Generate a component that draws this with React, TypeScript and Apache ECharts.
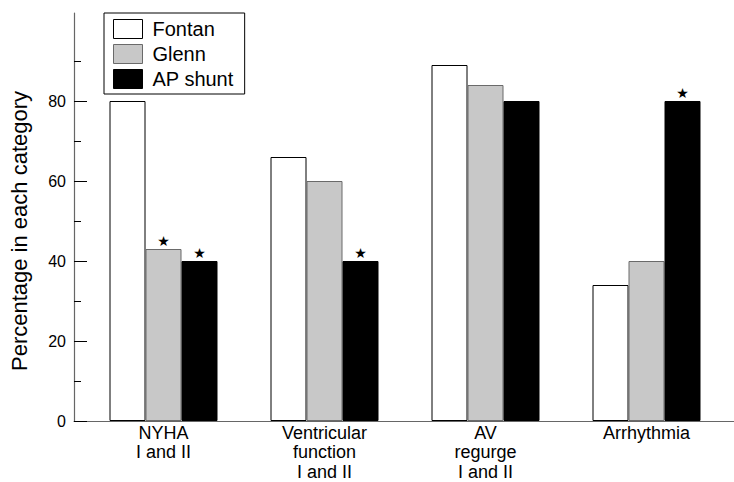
import React, { useEffect, useRef } from "react";
import * as echarts from "echarts";

const categories = ["NYHA\nI and II", "Ventricular\nfunction\nI and II", "AV\nregurge\nI and II", "Arrhythmia"];
const seriesNames = ["Fontan", "Glenn", "AP shunt"];
const fontanValues = [80, 66, 89, 34];
const glennValues = [43, 60, 84, 40];
const apShuntValues = [40, 40, 80, 80];
const fontanStars = [false, false, false, false];
const glennStars = [true, false, false, false];
const apShuntStars = [true, true, false, true];
const yTickLabels = [0, 20, 40, 60, 80];

const FONT = "'Liberation Sans', Arial, Helvetica, sans-serif";

const fills = ["#ffffff", "#c8c8c8", "#000000"];
const borders = ["#000000", "#6a6a6a", "#000000"];

export default function App() {
  const ref = useRef<HTMLDivElement>(null);
  useEffect(() => {
    if (!ref.current) return;
    const chart = echarts.init(ref.current, undefined, { renderer: "svg" });
    const valuesList = [fontanValues, glennValues, apShuntValues];
    const starsList = [fontanStars, glennStars, apShuntStars];
    const series = seriesNames.map((name, si) => ({
      name,
      type: "bar",
      xAxisIndex: 3,
      yAxisIndex: 3,
      barWidth: 36,
      barGap: "0%",
      itemStyle: { color: fills[si], borderColor: borders[si], borderWidth: 1 },
      data: valuesList[si].map((v, i) =>
        starsList[si][i]
          ? {
              value: v,
              label: {
                show: true,
                position: "top",
                distance: 1,
                formatter: "★",
                fontSize: 14,
                fontFamily: "'DejaVu Sans', sans-serif",
                color: "#000",
              },
            }
          : { value: v }
      ),
    }));

    const gridBase = { outerBoundsMode: "none", containLabel: false };

    const option: any = {
      animation: false,
      backgroundColor: "#ffffff",
      textStyle: { fontFamily: FONT },
      legend: {
        orient: "vertical",
        left: 104,
        top: 13,
        borderColor: "#000",
        borderWidth: 1,
        padding: [6, 11, 5, 9],
        itemWidth: 29,
        itemHeight: 19,
        itemGap: 5,
        icon: "rect",
        textStyle: { fontSize: 20, fontFamily: FONT, color: "#000", padding: [0, 0, 0, 5] },
        data: seriesNames.map((n, i) => ({
          name: n,
          itemStyle: { color: fills[i], borderColor: borders[i], borderWidth: 1 },
        })),
      },
      grid: [
        { ...gridBase, left: 74, top: 13, width: 660, height: 408 },
        { ...gridBase, left: 74, top: 61, width: 660, height: 360 },
        { ...gridBase, left: 74, top: 101, width: 660, height: 320 },
        { ...gridBase, left: 83, top: 13, width: 644, height: 408 },
      ],
      xAxis: [
        {
          gridIndex: 0,
          type: "value",
          min: 0,
          max: 1,
          axisLine: { show: true, lineStyle: { color: "#666", width: 1.2 } },
          axisTick: { show: false },
          axisLabel: { show: false },
          splitLine: { show: false },
        },
        { gridIndex: 1, type: "value", min: 0, max: 1, show: false },
        { gridIndex: 2, type: "value", min: 0, max: 1, show: false },
        {
          gridIndex: 3,
          type: "category",
          data: categories,
          axisLine: { show: false },
          axisTick: { show: false },
          axisLabel: {
            fontSize: 18,
            lineHeight: 19.5,
            margin: 2,
            color: "#000",
            fontFamily: FONT,
            interval: 0,
          },
        },
      ],
      yAxis: [
        {
          gridIndex: 0,
          type: "value",
          min: 0,
          max: 102,
          axisLine: { show: true, lineStyle: { color: "#666", width: 1.2 } },
          axisTick: { show: false },
          axisLabel: { show: false },
          splitLine: { show: false },
          name: "Percentage in each category",
          nameLocation: "middle",
          nameGap: 44,
          nameTextStyle: { fontSize: 22, color: "#000", fontFamily: FONT, padding: [0, 28, 0, 0] },
        },
        {
          gridIndex: 1,
          type: "value",
          min: 0,
          max: 90,
          interval: 10,
          axisLine: { show: false },
          axisTick: { show: true, inside: true, length: 7, lineStyle: { color: "#000" } },
          axisLabel: {
            show: true,
            margin: 8,
            fontSize: 16,
            color: "#000",
            fontFamily: FONT,
            formatter: (v: number) => (yTickLabels.indexOf(v) >= 0 ? String(v) : ""),
          },
          splitLine: { show: false },
        },
        {
          gridIndex: 2,
          type: "value",
          min: 0,
          max: 80,
          interval: 20,
          axisLine: { show: false },
          axisTick: { show: true, inside: true, length: 13, lineStyle: { color: "#000" } },
          axisLabel: { show: false },
          splitLine: { show: false },
        },
        {
          gridIndex: 3,
          type: "value",
          min: 0,
          max: 102,
          show: false,
          splitLine: { show: false },
        },
      ],
      series,
    };
    chart.setOption(option);
    return () => chart.dispose();
  }, []);
  return (
    <div
      ref={ref}
      style={{ position: "fixed", left: 0, top: 0, width: 734, height: 482, background: "#fff" }}
    />
  );
}
